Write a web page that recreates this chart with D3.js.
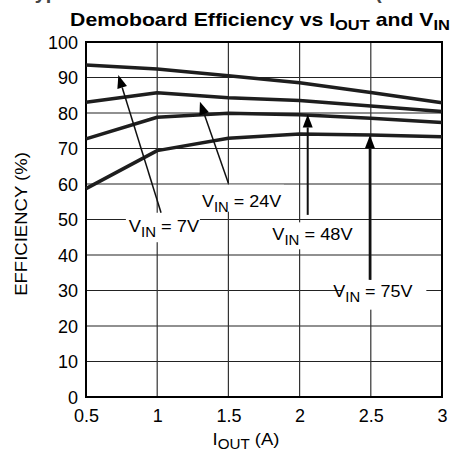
<!DOCTYPE html>
<html>
<head>
<meta charset="utf-8">
<script src="https://cdn.jsdelivr.net/npm/d3@7"></script>
<style>
  body { margin: 0; background: #fff; }
  svg { display: block; font-family: "Liberation Sans", Arial, sans-serif; }
</style>
</head>
<body>
<svg id="chart" width="454" height="465"></svg>
<script>
// ---- data ----
const iout = [0.5, 1, 1.5, 2, 2.5, 3];
const vin7  = [93.5, 92.4, 90.5, 88.5, 85.8, 82.9];
const vin24 = [83.0, 85.7, 84.3, 83.5, 82.0, 80.4];
const vin48 = [72.7, 78.8, 79.9, 79.5, 78.5, 77.3];
const vin75 = [58.7, 69.4, 72.9, 74.1, 73.8, 73.3];
const seriesNames = ["7V", "24V", "48V", "75V"];
const xTicks = [0.5, 1, 1.5, 2, 2.5, 3];
const xTickLabels = ["0.5", "1", "1.5", "2", "2.5", "3"];
const yTicks = [0, 10, 20, 30, 40, 50, 60, 70, 80, 90, 100];
// annotation anchors in data units: [tailX, tailY, tipX, tipY, textX, textY, boxX0, boxX1, boxY0, boxY1]
const annot7  = [1.027, 51.9, 0.727, 90.7, 1.048, 46.4, 0.78, 1.30, 51.9, 43.6];
const annot24 = [1.500, 60.2, 1.300, 83.2, 1.593, 53.4, 1.30, 1.89, 59.8, 52.2];
const annot48 = [2.057, 51.3, 2.057, 79.6, 2.090, 44.3, 1.78, 2.40, 49.2, 41.6];
const annot75 = [2.494, 33.0, 2.494, 73.7, 2.515, 28.2, 2.30, 2.89, 33.0, 24.6];
const arrowWidths = [1.5, 1.5, 2, 2.5];

const svg = d3.select("#chart");
const margin = {left: 86, right: 12, top: 42, bottom: 68};
const W = 454, H = 465;
const x = d3.scaleLinear().domain([0.5, 3]).range([margin.left, W - margin.right]);
const y = d3.scaleLinear().domain([0, 100]).range([H - margin.bottom, margin.top]);

// stretch a text horizontally about its centre to a target width
function fitWidth(sel, target) {
  const n = sel.node();
  const bb = n.getBBox();
  const cx = bb.x + bb.width / 2;
  const s = target / bb.width;
  const prev = sel.attr("transform") || "";
  sel.attr("transform", `translate(${cx},0) scale(${s},1) translate(${-cx},0) ${prev}`);
}

// cut-off line of previous heading (only its bottom edge is visible)
svg.append("text").attr("x", 24).attr("y", -1)
  .attr("font-size", 20).attr("font-weight", "bold").attr("fill", "#444")
  .text("Typical Performance Characteristics (continued)");

// title
const title = svg.append("text").attr("x", 260).attr("y", 26)
  .attr("text-anchor", "middle").attr("font-size", 18).attr("font-weight", "bold").attr("fill", "#000");
title.append("tspan").text("Demoboard Efficiency vs I");
title.append("tspan").attr("font-size", 14).attr("dy", 4).text("OUT");
title.append("tspan").attr("dy", -4).text(" and V");
title.append("tspan").attr("font-size", 14).attr("dy", 4).text("IN");
fitWidth(title, 380);

// grid
const g = svg.append("g");
g.selectAll(".hg").data(yTicks).join("line")
  .attr("x1", x(0.5)).attr("x2", x(3)).attr("y1", d => y(d)).attr("y2", d => y(d))
  .attr("stroke", "#222").attr("stroke-width", 1.2);
g.selectAll(".vg").data(xTicks).join("line")
  .attr("y1", y(0)).attr("y2", y(100)).attr("x1", d => x(d)).attr("x2", d => x(d))
  .attr("stroke", "#333").attr("stroke-width", 1.2);

// axes (labels only)
const xAxis = d3.axisBottom(x).tickValues(xTicks).tickSize(0).tickPadding(8)
  .tickFormat((d, i) => xTickLabels[i]);
const yAxis = d3.axisLeft(y).tickValues(yTicks).tickSize(0).tickPadding(8);
const gx = svg.append("g").attr("transform", `translate(0,${y(0)})`).call(xAxis);
const gy = svg.append("g").attr("transform", `translate(${x(0.5)},0)`).call(yAxis);
[gx, gy].forEach(a => {
  a.select(".domain").remove();
  a.selectAll("text").attr("font-size", 18).attr("fill", "#000")
    .attr("font-family", "'Liberation Sans', Arial, sans-serif");
});
gx.selectAll("text").attr("dy", "0.95em");
gy.selectAll("text").attr("dy", "0.36em");

// white label boxes
const annots = [annot7, annot24, annot48, annot75];
const labelWidths = [71, 80, 81, 80];
svg.selectAll(".box").data(annots).join("rect")
  .attr("x", d => x(d[6])).attr("width", d => x(d[7]) - x(d[6]))
  .attr("y", d => y(d[8])).attr("height", d => y(d[9]) - y(d[8]))
  .attr("fill", "#fff");

// frame
svg.append("rect").attr("x", x(0.5)).attr("y", y(100))
  .attr("width", x(3) - x(0.5)).attr("height", y(0) - y(100))
  .attr("fill", "none").attr("stroke", "#000").attr("stroke-width", 2);

// curves
const line = d3.line().x((d, i) => x(iout[i])).y(d => y(d));
[vin7, vin24, vin48, vin75].forEach(s => {
  svg.append("path").attr("d", line(s)).attr("fill", "none")
    .attr("stroke", "#1e1e1e").attr("stroke-width", 3.5).attr("stroke-linejoin", "round");
});

// arrows
annots.forEach((a, i) => {
  const x1 = x(a[0]), y1 = y(a[1]), x2 = x(a[2]), y2 = y(a[3]);
  const ang = Math.atan2(y2 - y1, x2 - x1);
  const L = 13, Wd = 5;
  const bx = x2 - L * Math.cos(ang), by = y2 - L * Math.sin(ang);
  svg.append("line").attr("x1", x1).attr("y1", y1).attr("x2", bx).attr("y2", by)
    .attr("stroke", "#111").attr("stroke-width", arrowWidths[i]);
  const px = -Math.sin(ang) * Wd, py = Math.cos(ang) * Wd;
  svg.append("path")
    .attr("d", `M${x2},${y2}L${bx + px},${by + py}L${bx - px},${by - py}Z`)
    .attr("fill", "#000");
  const t = svg.append("text").attr("x", x(a[4])).attr("y", y(a[5]))
    .attr("text-anchor", "middle").attr("font-size", 17).attr("fill", "#000");
  t.append("tspan").text("V");
  t.append("tspan").attr("font-size", 14).attr("dy", 5).text("IN");
  t.append("tspan").attr("dy", -5).text(" = " + seriesNames[i]);
  fitWidth(t, labelWidths[i]);
});

// axis titles
svg.append("text").attr("transform", `translate(27,${224}) rotate(-90) scale(1.09,1)`)
  .attr("text-anchor", "middle").attr("font-size", 17).attr("fill", "#000")
  .text("EFFICIENCY (%)");
const xt = svg.append("text").attr("x", 246).attr("y", 445)
  .attr("text-anchor", "middle").attr("font-size", 17).attr("fill", "#000");
xt.append("tspan").text("I");
xt.append("tspan").attr("font-size", 14).attr("dy", 4).text("OUT");
xt.append("tspan").attr("dy", -4).text(" (A)");
fitWidth(xt, 67);
</script>
</body>
</html>
